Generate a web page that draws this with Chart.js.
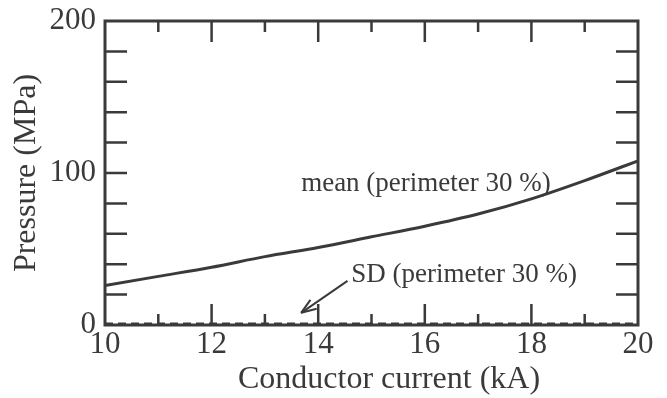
<!DOCTYPE html>
<html>
<head>
<meta charset="utf-8">
<script src="https://cdn.jsdelivr.net/npm/chart.js@4"></script>
<style>
  html, body { margin: 0; padding: 0; background: #fff; }
  #wrap { width: 667px; height: 398px; }
</style>
</head>
<body>
<div id="wrap"><canvas id="chart" width="667" height="398"></canvas></div>
<script>
// Veriler
const currents = [10, 11, 12, 13, 14, 15, 16, 17, 18, 19, 20];
const meanPressure = [26, 32, 38, 45, 51, 58, 65, 73, 83, 95, 108];
const sdPressure = [1, 1, 1, 1, 1, 1, 1, 1, 1, 1, 1];
const xLabels = [10, 12, 14, 16, 18, 20];
const yLabels = [0, 100, 200];

const ink = '#3a3a3a';
const serif = "'Liberation Serif', 'DejaVu Serif', serif";

// Çerçeve, içe dönük tikler, x başlığı ve açıklamalar
const framePlugin = {
    id: 'frame',
    afterDatasetsDraw(chart) {
        const { ctx, chartArea: a, scales } = chart;
        const x = scales.x, y = scales.y;
        ctx.save();
        ctx.strokeStyle = ink;
        ctx.lineWidth = 3;
        ctx.strokeRect(a.left, a.top, a.right - a.left, a.bottom - a.top);

        ctx.lineWidth = 2.5;
        for (let v = 11; v < 20; v++) {
            const px = x.getPixelForValue(v);
            const len = v % 2 === 0 ? 21 : 11;
            ctx.beginPath();
            ctx.moveTo(px, a.bottom); ctx.lineTo(px, a.bottom - len);
            ctx.moveTo(px, a.top); ctx.lineTo(px, a.top + len);
            ctx.stroke();
        }
        for (let v = 20; v < 200; v += 20) {
            const py = y.getPixelForValue(v);
            ctx.beginPath();
            ctx.moveTo(a.left, py); ctx.lineTo(a.left + 22, py);
            ctx.moveTo(a.right, py); ctx.lineTo(a.right - 22, py);
            ctx.stroke();
        }

        ctx.fillStyle = ink;
        ctx.textBaseline = 'middle';

        // X ekseni başlığı
        ctx.font = '32px ' + serif;
        ctx.textAlign = 'center';
        ctx.fillText('Conductor current (kA)', 389, 380);

        // Açıklama yazıları
        ctx.font = '27px ' + serif;
        ctx.textAlign = 'left';
        ctx.fillText('mean (perimeter 30 %)', x.getPixelForValue(13.68), y.getPixelForValue(93));
        ctx.fillText('SD (perimeter 30 %)', x.getPixelForValue(14.62), y.getPixelForValue(33));

        // Ok
        const x1 = x.getPixelForValue(14.55), y1 = y.getPixelForValue(29);
        const x2 = x.getPixelForValue(13.68), y2 = y.getPixelForValue(8);
        ctx.lineWidth = 2;
        ctx.beginPath();
        ctx.moveTo(x1, y1); ctx.lineTo(x2, y2);
        ctx.stroke();
        const ang = Math.atan2(y2 - y1, x2 - x1);
        ctx.beginPath();
        ctx.moveTo(x2, y2);
        ctx.lineTo(x2 - 16 * Math.cos(ang - 0.35), y2 - 16 * Math.sin(ang - 0.35));
        ctx.moveTo(x2, y2);
        ctx.lineTo(x2 - 16 * Math.cos(ang + 0.35), y2 - 16 * Math.sin(ang + 0.35));
        ctx.stroke();
        ctx.restore();
    }
};

new Chart(document.getElementById('chart'), {
    type: 'line',
    data: {
        datasets: [
            {
                label: 'mean',
                data: currents.map((c, i) => ({ x: c, y: meanPressure[i] })),
                borderColor: ink,
                borderWidth: 3,
                pointRadius: 0,
                cubicInterpolationMode: 'monotone'
            },
            {
                label: 'SD',
                data: currents.map((c, i) => ({ x: c, y: sdPressure[i] })),
                borderColor: ink,
                borderWidth: 2,
                borderDash: [8, 5],
                pointRadius: 0
            }
        ]
    },
    options: {
        responsive: false,
        animation: false,
        layout: { padding: { left: 0, right: 29, top: 21, bottom: 0 } },
        plugins: { legend: { display: false }, tooltip: { enabled: false } },
        scales: {
            x: {
                type: 'linear',
                min: 10,
                max: 20,
                afterBuildTicks: s => { s.ticks = xLabels.map(v => ({ value: v })); },
                afterFit: s => { s.height = 73; s.paddingLeft = 0; s.paddingRight = 0; },
                grid: { display: false, drawTicks: false },
                border: { display: false },
                ticks: {
                    padding: 1,
                    color: ink,
                    font: { family: serif, size: 31 },
                    maxRotation: 0
                }
            },
            y: {
                min: 0,
                max: 200,
                afterBuildTicks: s => { s.ticks = yLabels.map(v => ({ value: v })); },
                afterFit: s => { s.width = 105; s.paddingTop = 0; s.paddingBottom = 0; },
                grid: { display: false, drawTicks: false },
                border: { display: false },
                ticks: {
                    padding: 9,
                    color: ink,
                    font: { family: serif, size: 31 }
                },
                title: {
                    display: true,
                    text: 'Pressure (MPa)',
                    color: ink,
                    font: { family: serif, size: 32 },
                    padding: { top: 7, bottom: 0 }
                }
            }
        }
    },
    plugins: [framePlugin]
});
</script>
</body>
</html>
